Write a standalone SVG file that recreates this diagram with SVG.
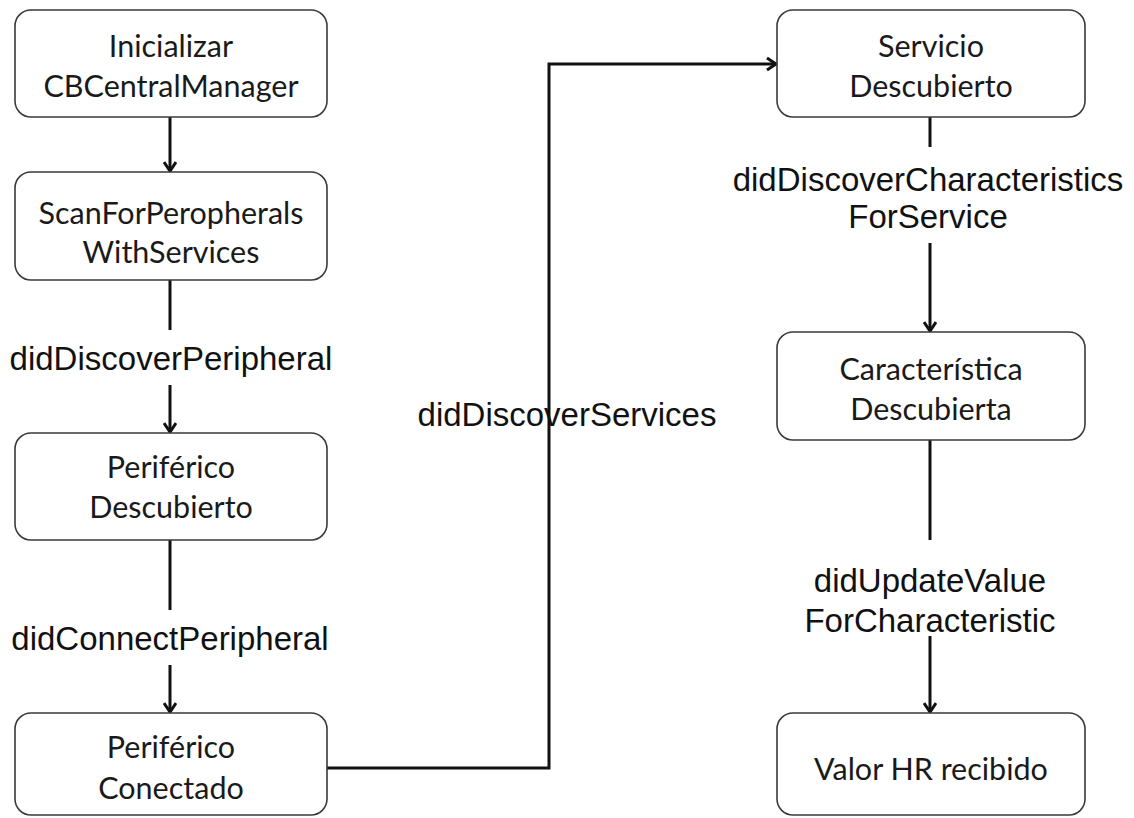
<svg xmlns="http://www.w3.org/2000/svg" width="1134" height="818" viewBox="0 0 1134 818">
<style>
.box{fill:#fff;stroke:#3a3a3a;stroke-width:1.6}
.nt{font-family:Lato,"Open Sans",sans-serif;font-size:30.5px;fill:#1a1a1a;text-anchor:middle}
.lt{font-family:"Liberation Sans",Arial,sans-serif;font-size:33px;fill:#111;text-anchor:middle}
.ln{fill:none;stroke:#111;stroke-width:3}
</style>
<defs>
<marker id="ah" markerWidth="14" markerHeight="14" refX="11" refY="7" orient="auto" markerUnits="userSpaceOnUse">
<polyline points="2,1 11,7 2,13" fill="none" stroke="#111" stroke-width="3"/>
</marker>
</defs>
<rect width="1134" height="818" fill="#fff"/>
<g id="connectors">
<line class="ln" x1="170" y1="117" x2="170" y2="171" marker-end="url(#ah)"/>
<line class="ln" x1="170" y1="280" x2="170" y2="330"/>
<line class="ln" x1="170" y1="385" x2="170" y2="432" marker-end="url(#ah)"/>
<line class="ln" x1="170" y1="540" x2="170" y2="610"/>
<line class="ln" x1="170" y1="665" x2="170" y2="712" marker-end="url(#ah)"/>
<polyline class="ln" points="327,768 549,768 549,64 776,64" marker-end="url(#ah)"/>
<line class="ln" x1="930" y1="117" x2="930" y2="147"/>
<line class="ln" x1="930" y1="243" x2="930" y2="331" marker-end="url(#ah)"/>
<line class="ln" x1="930" y1="440" x2="930" y2="540"/>
<line class="ln" x1="930" y1="636" x2="930" y2="712" marker-end="url(#ah)"/>
<text class="lt" x="171" y="370">didDiscoverPeripheral</text>
<text class="lt" x="170" y="650">didConnectPeripheral</text>
<text class="lt" x="567" y="426">didDiscoverServices</text>
<text class="lt" x="928" y="191">didDiscoverCharacteristics</text>
<text class="lt" x="928" y="228">ForService</text>
<text class="lt" x="930" y="592">didUpdateValue</text>
<text class="lt" x="930" y="632">ForCharacteristic</text>
</g>
<g id="n1"><rect class="box" x="15" y="10" width="312" height="107" rx="16"/><text class="nt" x="171" y="57">Inicializar</text><text class="nt" x="171" y="97">CBCentralManager</text></g>
<g id="n2"><rect class="box" x="15" y="172" width="312" height="108" rx="16"/><text class="nt" x="171" y="224">ScanForPeropherals</text><text class="nt" x="171" y="263">WithServices</text></g>
<g id="n3"><rect class="box" x="15" y="433" width="312" height="107" rx="16"/><text class="nt" x="171" y="478">Periférico</text><text class="nt" x="171" y="518">Descubierto</text></g>
<g id="n4"><rect class="box" x="15" y="713" width="312" height="102" rx="16"/><text class="nt" x="171" y="758">Periférico</text><text class="nt" x="171" y="799">Conectado</text></g>
<g id="n5"><rect class="box" x="777" y="10" width="308" height="107" rx="16"/><text class="nt" x="931" y="57">Servicio</text><text class="nt" x="931" y="97">Descubierto</text></g>
<g id="n6"><rect class="box" x="777" y="332" width="308" height="108" rx="16"/><text class="nt" x="931" y="380">Característica</text><text class="nt" x="931" y="420">Descubierta</text></g>
<g id="n7"><rect class="box" x="777" y="713" width="308" height="102" rx="16"/><text class="nt" x="931" y="780">Valor HR recibido</text></g>
</svg>
